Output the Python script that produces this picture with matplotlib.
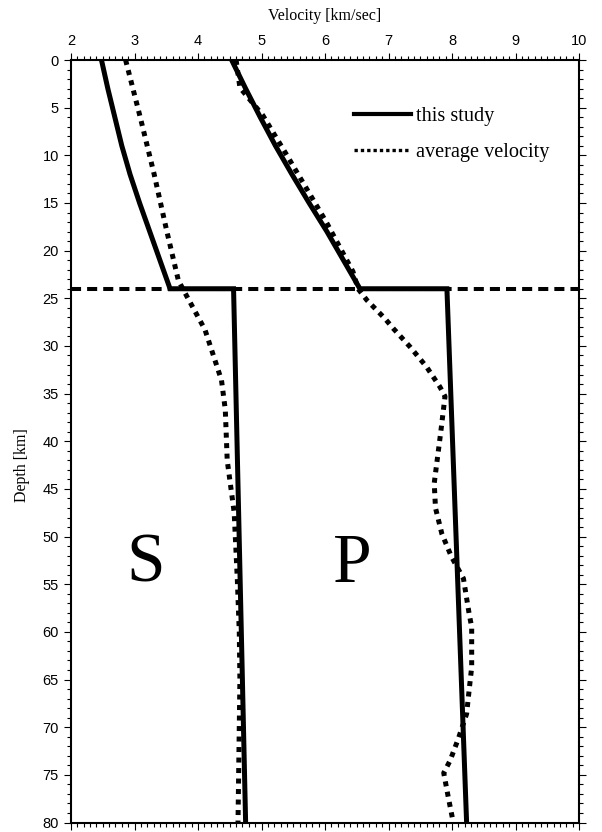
import matplotlib
matplotlib.use("Agg")
import matplotlib.pyplot as plt
from matplotlib.lines import Line2D
from matplotlib.ticker import MultipleLocator

# velocity models, depth in km, velocity in km/s
moho = 24

s_depth = [0, 3, 6, 9, 12, 15, 18, 21, 24, 24, 80]
s_vel = [2.48, 2.58, 2.69, 2.80, 2.93, 3.08, 3.24, 3.40, 3.56, 4.56, 4.75]

p_depth = [0, 3, 6, 9, 12, 15, 18, 21, 24, 24, 80]
p_vel = [4.53, 4.75, 4.98, 5.22, 5.48, 5.75, 6.03, 6.29, 6.55, 7.92, 8.23]

s_avg_depth = [0, 6, 12, 18, 23.1, 24, 28.3, 33.6, 36.7, 42, 47.5, 54.6, 60, 65, 70, 75, 80]
s_avg_vel = [2.86, 3.09, 3.31, 3.51, 3.69, 3.76, 4.11, 4.37, 4.43, 4.46, 4.57, 4.62, 4.65, 4.66, 4.65, 4.64, 4.63]

p_avg_depth = [0, 2.9, 5.8, 10, 17, 22.2, 24, 25.2, 27.1, 28.2, 30.1, 32.2, 34.3, 35.3, 39.2, 44.4,
               47, 49.7, 52.1, 54.4, 58.1, 59.5, 63.7, 66.1, 68.6, 71.2, 73.5, 74.8, 77.3, 80]
p_avg_vel = [4.60, 4.66, 5.02, 5.40, 6.02, 6.44, 6.52, 6.66, 6.94, 7.08, 7.34, 7.60, 7.81, 7.89, 7.82, 7.72,
             7.74, 7.84, 7.99, 8.18, 8.27, 8.31, 8.31, 8.27, 8.23, 8.10, 7.97, 7.87, 7.94, 8.02]

serif = ['Liberation Serif', 'DejaVu Serif']
sans = ['Liberation Sans', 'DejaVu Sans']

fig = plt.figure(figsize=(6.02, 8.32), dpi=100)
ax = fig.add_axes([71 / 602, 1 - 822.5 / 832, 508 / 602, 762.5 / 832])

dotted = (0, (1, 1.1))
ax.plot(s_vel, s_depth, color='black', lw=3.6, solid_joinstyle='miter')
ax.plot(p_vel, p_depth, color='black', lw=3.6, solid_joinstyle='miter')
ax.plot(s_avg_vel, s_avg_depth, color='black', lw=3.6, linestyle=dotted)
ax.plot(p_avg_vel, p_avg_depth, color='black', lw=3.6, linestyle=dotted)
ax.axhline(moho, color='black', lw=2.9, linestyle=(0, (2.5, 1.5)))

ax.text(3.18, 53.0, 'S', fontsize=50, family=serif, ha='center', va='center')
ax.text(6.43, 53.0, 'P', fontsize=50, family=serif, ha='center', va='center')

handles = [Line2D([], [], color='black', lw=3.0),
           Line2D([], [], color='black', lw=2.4, linestyle=(0, (1, 0.9)))]
ax.legend(handles, ['this study', 'average velocity'], loc='upper left',
          bbox_to_anchor=(0.558, 0.939), frameon=False, borderpad=0, borderaxespad=0,
          handlelength=2.8, handletextpad=0.25, labelspacing=0.85,
          prop={'family': serif, 'size': 14.6})

ax.set_xlim(2, 10)
ax.set_ylim(80, 0)
ax.xaxis.set_major_locator(MultipleLocator(1))
ax.xaxis.set_minor_locator(MultipleLocator(0.1))
ax.yaxis.set_major_locator(MultipleLocator(5))
ax.yaxis.set_minor_locator(MultipleLocator(1))
ax.tick_params(which='both', direction='out', top=True, bottom=True, left=True, right=True,
               labeltop=True, labelbottom=False, labelleft=True, labelright=False, width=0.8)
ax.tick_params(which='major', length=5, pad=3.8, labelsize=10.5)
ax.tick_params(which='minor', length=3)
for lab in ax.get_xticklabels() + ax.get_yticklabels():
    lab.set_family(sans)
for side in ax.spines.values():
    side.set_linewidth(1.5)

ax.xaxis.set_label_position('top')
ax.set_xlabel('Velocity [km/sec]', family=serif, fontsize=11.5, labelpad=10)
ax.set_ylabel('Depth [km]', family=serif, fontsize=11.5)
ax.yaxis.set_label_coords(-0.08, 0.469)

fig.savefig('out.png', dpi=100)
